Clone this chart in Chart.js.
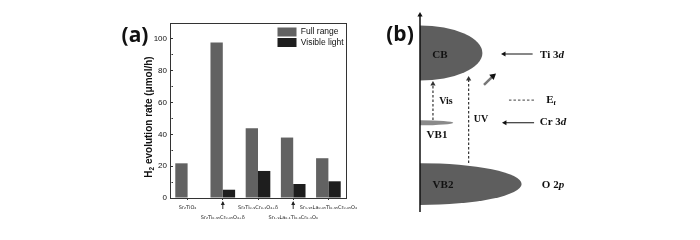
<!DOCTYPE html>
<html>
<head>
<meta charset="utf-8">
<style>
  html, body { margin: 0; padding: 0; background: #fff; width: 700px; height: 240px; overflow: hidden; }
  .box { position: absolute; top: 0; height: 240px; }
  #box-a { left: 0; width: 380px; }
  #box-b { left: 380px; width: 320px; }
  canvas { filter: blur(0.45px); }
</style>
<script src="https://cdn.jsdelivr.net/npm/chart.js@4"></script>
</head>
<body>
<div class="box" id="box-a"><canvas id="chart-a"></canvas></div>
<div class="box" id="box-b"><canvas id="chart-b"></canvas></div>
<script>
// panel (a)
const samples = [
  'Sr₂TiO₄',
  ['', 'Sr₂Ti₀.₉₅Cr₀.₀₅O₄₊δ'],
  'Sr₂Ti₀.₉Cr₀.₁O₄₊δ',
  ['', 'Sr₁.₉La₀.₁Ti₀.₉Cr₀.₁O₄'],
  'Sr₁.₉₅La₀.₀₅Ti₀.₉₅Cr₀.₀₅O₄'
];
const fullRange = [21.8, 97.7, 43.9, 38, 25];
const visibleLight = [0, 5.2, 17, 8.8, 10.5];
const arrowedSamples = [1, 3];

// panel (b), x is density of states, y is energy (both 0-100)
const bandNames = ['CB', 'VB1', 'VB2'];
const bandEnergy = [80.7, 45.3, 14.2];
const bandSpread = [14, 1.3, 10.6];
const bandDensity = [39, 20.8, 63.5];
const visX = [8.1, 8.1];
const visY = [46.7, 65];
const uvX = [30.4, 30.4];
const uvY = [24.9, 67.5];
const tiX = [70.4, 52.5];
const tiY = [80.2, 80.2];
const crX = [71.3, 53.1];
const crY = [45.3, 45.3];
const efX = [55.6, 71.9];
const efY = [56.8, 56.8];
const lampX = [40, 45.6];
const lampY = [64.5, 69];
const axisX = [0, 0];
const axisY = [0, 100];

const SANS = '"Liberation Sans", Arial, sans-serif';
const SERIF = '"Liberation Serif", serif';
Chart.defaults.animation = false;
Chart.defaults.responsive = false;

function prepare(id, w, h) {
  const c = document.getElementById(id);
  c.width = w;
  c.height = h;
  return c;
}

// draws pieces of text one after the other, each with its own font
function drawRuns(ctx, runs, x, y) {
  ctx.save();
  ctx.fillStyle = '#111';
  ctx.textBaseline = 'middle';
  ctx.textAlign = 'left';
  let total = 0;
  runs.forEach(r => { ctx.font = r[1]; total += ctx.measureText(r[0]).width; });
  let cx = x - total / 2;
  runs.forEach(r => {
    ctx.font = r[1];
    ctx.fillText(r[0], cx, y + (r[2] || 0));
    cx += ctx.measureText(r[0]).width;
  });
  ctx.restore();
}

const panelA = {
  id: 'panelA',
  afterLayout(chart) {
    // move the legend to the upper right of the plot
    const lg = chart.legend;
    const w = lg.width, h = lg.height;
    lg.left = 276; lg.right = 276 + w;
    lg.top = 26; lg.bottom = 26 + h;
  },
  afterDraw(chart) {
    const ctx = chart.ctx, a = chart.chartArea, x = chart.scales.x;
    ctx.save();
    ctx.strokeStyle = '#333';
    ctx.lineWidth = 1;
    ctx.strokeRect(a.left + .5, a.top + .5, a.right - a.left, a.bottom - a.top);
    ctx.fillStyle = '#222';
    arrowedSamples.forEach(i => {
      const px = x.getPixelForValue(i);
      ctx.beginPath();
      ctx.moveTo(px, a.bottom + 4);
      ctx.lineTo(px, a.bottom + 11);
      ctx.stroke();
      ctx.beginPath();
      ctx.moveTo(px, a.bottom + 3);
      ctx.lineTo(px - 2, a.bottom + 7);
      ctx.lineTo(px + 2, a.bottom + 7);
      ctx.fill();
    });
    // y title by hand: it sits below the middle of the axis and has a real subscript
    ctx.save();
    ctx.translate(149, 117);
    ctx.rotate(-Math.PI / 2);
    const T = 'bold 10px ' + SANS;
    drawRuns(ctx, [['H', T], ['2', 'bold 6.5px ' + SANS, 3], [' evolution rate (μmol/h)', T]], 0, 0);
    ctx.restore();
    ctx.restore();
    drawRuns(ctx, [['(a)', 'bold 21px "Open Sans", sans-serif']], 135, 36);
  }
};

new Chart(prepare('chart-a', 380, 240), {
  type: 'bar',
  plugins: [panelA],
  data: {
    labels: samples,
    datasets: [
      { label: 'Full range', data: fullRange, backgroundColor: '#626262', borderWidth: 0 },
      { label: 'Visible light', data: visibleLight, backgroundColor: '#1e1e1e', borderWidth: 0 }
    ]
  },
  options: {
    layout: { padding: { left: 140, right: 34, top: 23, bottom: 0 } },
    datasets: { bar: { barPercentage: 1, categoryPercentage: 0.7 } },
    plugins: {
      title: { display: false },
      tooltip: { enabled: false },
      legend: {
        position: 'chartArea',
        align: 'start',
        labels: { boxWidth: 19, boxHeight: 9, padding: 1.5, color: '#111', font: { family: SANS, size: 8.5 } }
      }
    },
    scales: {
      x: {
        afterFit: s => { s.height = 42; },
        grid: { display: true, drawOnChartArea: false, offset: false, tickLength: 2, tickColor: '#333' },
        border: { color: '#333' },
        ticks: {
          autoSkip: false, maxRotation: 0, minRotation: 0, padding: 3, color: '#222',
          font: { family: '"DejaVu Sans", sans-serif', size: 5, lineHeight: 2 }
        }
      },
      y: {
        min: 0, max: 110,
        afterFit: s => { s.width = 30; },
        grid: {
          display: true, drawOnChartArea: false, tickLength: -3, tickColor: '#333',
          tickBorderDash: c => (c.tick && c.tick.value % 20 !== 0) ? [1.5, 9] : []
        },
        border: { color: '#333' },
        ticks: {
          stepSize: 10, padding: 6, color: '#111',
          font: { family: SANS, size: 8 },
          callback: v => (v % 20 === 0 ? v : '')
        }
      }
    }
  }
});

const bandsPlugin = {
  id: 'bands',
  beforeDatasetsDraw(chart) {
    const ctx = chart.ctx, x = chart.scales.x, y = chart.scales.y;
    ctx.save();
    bandNames.forEach((n, i) => {
      const px = x.getPixelForValue(0);
      const py = y.getPixelForValue(bandEnergy[i]);
      const rx = x.getPixelForValue(bandDensity[i]) - px;
      const ry = py - y.getPixelForValue(bandEnergy[i] + bandSpread[i]);
      ctx.fillStyle = n === 'VB1' ? '#8a8a8a' : '#5e5e5e';
      ctx.beginPath();
      ctx.ellipse(px, py, rx, ry, 0, -Math.PI / 2, Math.PI / 2);
      ctx.closePath();
      ctx.fill();
    });
    ctx.restore();
  },
  afterDraw(chart) {
    const ctx = chart.ctx;
    const B = 'bold 11px ' + SERIF, I = 'italic bold 11px ' + SERIF, S = 'bold 7px ' + SERIF;
    drawRuns(ctx, [['(b)', 'bold 21px "Open Sans", sans-serif']], 20, 35);
    drawRuns(ctx, [['CB', B]], 60, 55);
    drawRuns(ctx, [['VB1', B]], 57, 135);
    drawRuns(ctx, [['VB2', B]], 63, 185);
    drawRuns(ctx, [['Vis', 'bold 10px ' + SERIF]], 66, 101);
    drawRuns(ctx, [['UV', 'bold 10px ' + SERIF]], 101, 119);
    drawRuns(ctx, [['Ti 3', B], ['d', I]], 172, 55);
    drawRuns(ctx, [['E', B], ['f', S, 3]], 171, 100);
    drawRuns(ctx, [['Cr 3', B], ['d', I]], 173, 122);
    drawRuns(ctx, [['O 2', B], ['p', I]], 173, 185);
  }
};

function arrowSet(xs, ys, rotation, dashed, color) {
  return {
    data: xs.map((v, i) => ({ x: v, y: ys[i] })),
    showLine: true,
    clip: false,
    borderColor: color || '#111',
    backgroundColor: color || '#111',
    borderWidth: dashed ? 1.2 : 1,
    borderDash: dashed ? [2.5, 2] : [],
    pointStyle: 'triangle',
    pointRadius: [0, 3],
    pointBorderWidth: 0,
    rotation: rotation
  };
}

const axisSet = arrowSet(axisX, axisY, 0, false);
axisSet.borderWidth = 1.5;
const lampSet = arrowSet(lampX, lampY, 50, false, '#777');
lampSet.borderWidth = 2.5;
lampSet.pointRadius = [0, 4];
lampSet.pointBackgroundColor = '#111';
const efSet = arrowSet(efX, efY, 0, true, '#666');
efSet.pointRadius = 0;

new Chart(prepare('chart-b', 320, 240), {
  type: 'scatter',
  plugins: [bandsPlugin],
  data: {
    datasets: [
      axisSet,
      arrowSet(visX, visY, 0, true, '#333'),
      arrowSet(uvX, uvY, 0, true, '#333'),
      arrowSet(tiX, tiY, 270, false),
      arrowSet(crX, crY, 270, false),
      efSet,
      lampSet
    ]
  },
  options: {
    layout: { padding: { left: 40, right: 120, top: 15, bottom: 28 } },
    plugins: { legend: { display: false }, tooltip: { enabled: false } },
    scales: {
      x: { display: false, min: 0, max: 100 },
      y: { display: false, min: 0, max: 100 }
    }
  }
});
</script>
</body>
</html>
